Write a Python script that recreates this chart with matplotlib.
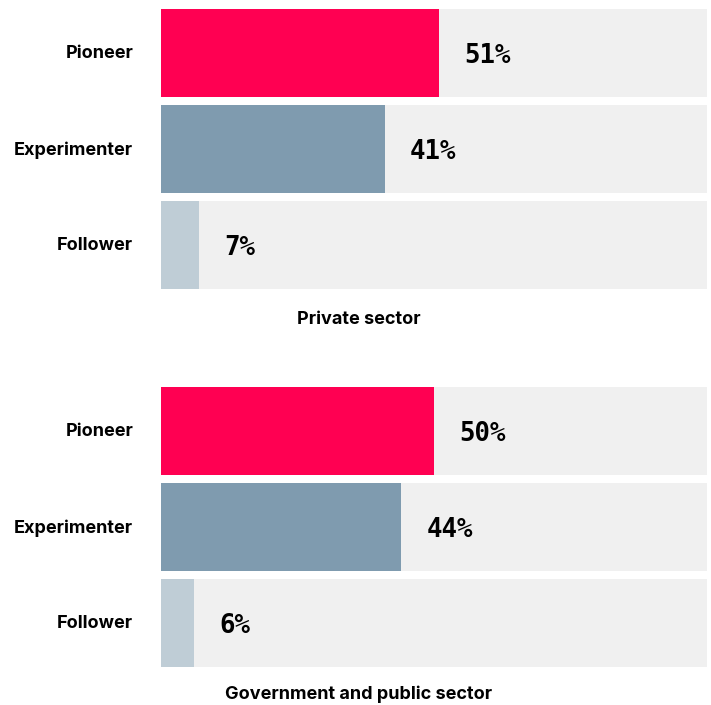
import matplotlib.pyplot as plt

# segment shares per sector (percent)
categories = ["Pioneer", "Experimenter", "Follower"]
private_values = [51, 41, 7]
public_values = [50, 44, 6]
sectors = ["Private sector", "Government and public sector"]

COLORS = ["#FF0052", "#7F9BAF", "#BFCDD6"]
TRACK = "#F0F0F0"

W, H = 711, 705
BAR_H = 88 / 96


def draw_panel(fig, top_px, values, title, title_y_px):
    # axes spans the three tracks in pixel space
    left, right = 161 / W, 707 / W
    bottom = 1 - (top_px + 280) / H
    ax = fig.add_axes([left, bottom, right - left, 280 / H])
    ys = list(range(len(categories)))
    ax.barh(ys, [100] * len(ys), height=BAR_H, color=TRACK, zorder=1)
    ax.barh(ys, values, height=BAR_H, color=COLORS, zorder=2)
    for y, v in zip(ys, values):
        ax.text(v + 4.6, y + 0.03, f"{v}%", ha="left", va="center", fontsize=18.5,
                fontweight="bold", family="DejaVu Sans Mono", color="#000000", zorder=3)
        ax.text(-5.1, y + 0.01, categories[y], ha="right", va="center", fontsize=13,
                fontweight="bold", family="Inter", color="#000000")
    ax.set_xlim(0, 100)
    ax.set_ylim(len(ys) - 1 + BAR_H / 2, -BAR_H / 2)
    ax.axis("off")
    fig.text(359 / W, 1 - title_y_px / H, title, ha="center", va="center",
             fontsize=13, fontweight="bold", family="Inter", color="#000000")


fig = plt.figure(figsize=(W / 100, H / 100), dpi=100)
fig.patch.set_facecolor("white")
draw_panel(fig, 9, private_values, sectors[0], 319)
draw_panel(fig, 387, public_values, sectors[1], 694)
fig.savefig("out.png", dpi=100, facecolor="white")
